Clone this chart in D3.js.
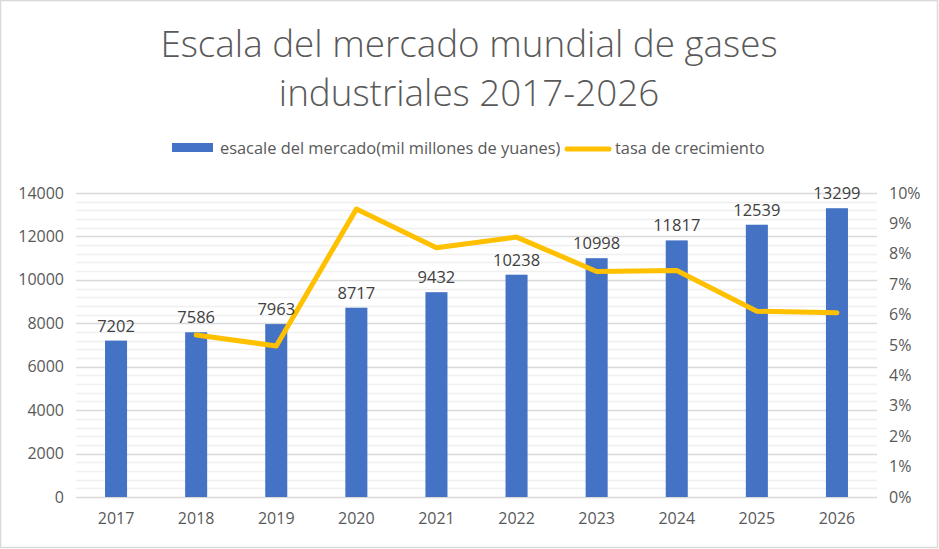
<!DOCTYPE html>
<html><head><meta charset="utf-8">
<script src="https://cdn.jsdelivr.net/npm/d3@7"></script>
<style>
body{margin:0;background:#fff;}
svg{display:block;font-family:"Open Sans",sans-serif;}
</style></head>
<body><svg id="c" width="939" height="549"></svg>
<script>
const years = ["2017","2018","2019","2020","2021","2022","2023","2024","2025","2026"];
const marketScale = [7202,7586,7963,8717,9432,10238,10998,11817,12539,13299];
const growthRate = [null,5.33,4.97,9.47,8.20,8.55,7.42,7.45,6.11,6.06];
const leftTicks = [0,2000,4000,6000,8000,10000,12000,14000];
const rightTicks = [0,1,2,3,4,5,6,7,8,9,10];
const titleLines = ["Escala del mercado mundial de gases","industriales 2017-2026"];
const seriesNames = ["esacale del mercado(mil millones de yuanes)","tasa de crecimiento"];

const svg = d3.select("#c");
const W=939,H=549;
svg.append("rect").attr("x",0.5).attr("y",0.5).attr("width",W-2).attr("height",H-2)
  .attr("fill","#fff").attr("stroke","#d9d9d9").attr("stroke-width",1.5);

const m={l:76,r:877,t:193,b:497};
const x=d3.scaleBand().domain(years).range([m.l,m.r]).paddingInner(0.725).paddingOuter(0.3625);
const yL=d3.scaleLinear().domain([0,14000]).range([m.b,m.t]);
const yR=d3.scaleLinear().domain([0,10]).range([m.b,m.t]);

// minor gridlines
const minor=d3.range(0,14001,400).filter(v=>v%2000!==0);
svg.append("g").selectAll("line").data(minor).join("line")
  .attr("x1",m.l).attr("x2",m.r).attr("y1",d=>Math.round(yL(d))+0.5).attr("y2",d=>Math.round(yL(d))+0.5)
  .attr("stroke","#f0f0f0").attr("stroke-width",1.5);
svg.append("g").selectAll("line").data(leftTicks).join("line")
  .attr("x1",m.l).attr("x2",m.r).attr("y1",d=>Math.round(yL(d))+0.5).attr("y2",d=>Math.round(yL(d))+0.5)
  .attr("stroke","#d9d9d9").attr("stroke-width",1.5);

const fs=16;
// axes
const gL=svg.append("g").attr("transform",`translate(${m.l},0)`)
  .call(d3.axisLeft(yL).tickValues(leftTicks).tickSize(0).tickPadding(12).tickFormat(d3.format("d")));
gL.select(".domain").remove();
gL.attr("font-family",null).attr("font-size",fs);
gL.selectAll("text").attr("fill","#595959");
const gR=svg.append("g").attr("transform",`translate(${m.r},0)`)
  .call(d3.axisRight(yR).tickValues(rightTicks).tickSize(0).tickPadding(12).tickFormat(d=>d+"%"));
gR.select(".domain").remove();
gR.attr("font-family",null).attr("font-size",fs);
gR.selectAll("text").attr("fill","#595959");
const gX=svg.append("g").attr("transform",`translate(0,${m.b})`)
  .call(d3.axisBottom(x).tickSize(0).tickPadding(16));
gX.select(".domain").remove();
gX.attr("font-family",null).attr("font-size",fs);
gX.selectAll("text").attr("fill","#595959");

// bars
svg.append("g").selectAll("rect").data(years).join("rect")
  .attr("x",d=>x(d)).attr("width",x.bandwidth())
  .attr("y",(d,i)=>yL(marketScale[i])).attr("height",(d,i)=>yL(0)-yL(marketScale[i]))
  .attr("fill","#4472c4");

// line
const pts=years.map((d,i)=>[d,growthRate[i]]).filter(p=>p[1]!==null);
svg.append("path").datum(pts)
  .attr("d",d3.line().x(p=>x(p[0])+x.bandwidth()/2).y(p=>yR(p[1])))
  .attr("fill","none").attr("stroke","#ffc000").attr("stroke-width",5)
  .attr("stroke-linecap","round").attr("stroke-linejoin","round");

// data labels
svg.append("g").selectAll("text").data(years).join("text")
  .attr("x",d=>x(d)+x.bandwidth()/2).attr("y",(d,i)=>yL(marketScale[i])-9)
  .attr("text-anchor","middle").attr("font-size",16.5).attr("fill","#404040")
  .text((d,i)=>marketScale[i]);

// title
svg.append("g").selectAll("text").data(titleLines).join("text")
  .attr("x",469).attr("y",(d,i)=>57+i*49).attr("text-anchor","middle")
  .attr("font-size",36.8).attr("font-weight",300).attr("fill","#595959")
  .text(d=>d);

// legend
const lg=svg.append("g");
lg.append("rect").attr("x",172).attr("y",143).attr("width",41).attr("height",9).attr("fill","#4472c4");
lg.append("text").attr("x",220).attr("y",154).attr("font-size",16.4).attr("fill","#595959").text(seriesNames[0]);
lg.append("line").attr("x1",567).attr("x2",609).attr("y1",149).attr("y2",149)
  .attr("stroke","#ffc000").attr("stroke-width",5).attr("stroke-linecap","round");
lg.append("text").attr("x",615).attr("y",154).attr("font-size",16.4).attr("fill","#595959").text(seriesNames[1]);
</script></body></html>
